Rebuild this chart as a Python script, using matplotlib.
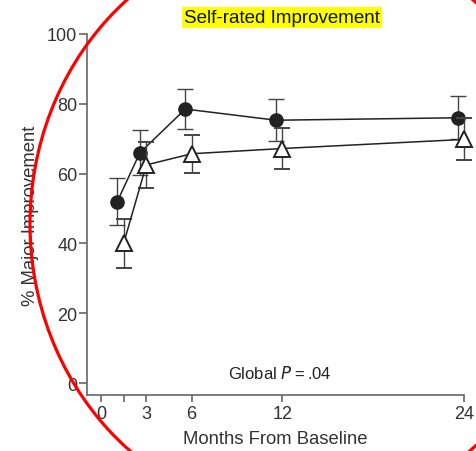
import numpy as np
import matplotlib.pyplot as plt
from matplotlib.patches import Ellipse

plt.rcParams['font.family'] = ['Liberation Sans', 'DejaVu Sans']

# months from baseline
months = [1.5, 3, 6, 12, 24]
tick_months = [0, 1.5, 3, 6, 12, 24]
tick_labels = ['0', '', '3', '6', '12', '24']

# % major improvement, two groups
filled_pct = [52, 66, 78.5, 75.3, 76]
filled_err = [6.7, 6.5, 5.6, 6.0, 6.1]
open_pct = [40, 62.5, 65.7, 67.2, 69.8]
open_err = [7.0, 6.6, 5.5, 6.0, 6.0]
offset = 0.42  # filled series shifted left so bars do not overlap

fig = plt.figure(figsize=(4.77, 4.52), dpi=100)
ax = fig.add_axes([0.1824, 0.1239, 0.7903, 0.7987])

l1 = ax.errorbar(np.array(months) - offset, filled_pct, yerr=filled_err,
                 fmt='-o', color='#222222', ecolor='#444444', elinewidth=1.0,
                 capsize=6, capthick=1.0, markersize=9.5, lw=1.1, zorder=3)
l2 = ax.errorbar(months, open_pct, yerr=open_err, fmt='-^', color='#222222',
                 ecolor='#444444', elinewidth=1.0, capsize=6, capthick=1.0,
                 markersize=11, markerfacecolor='white', markeredgewidth=1.4,
                 lw=1.1, zorder=4)
for cont in (l1, l2):
    for art in cont.get_children():
        art.set_clip_on(False)

ax.set_xlim(-0.92, 24)
ax.set_ylim(-3.4, 100)
ax.set_xticks(tick_months)
ax.set_xticklabels(tick_labels)
ax.set_yticks([0, 20, 40, 60, 80, 100])

for s in ['top', 'right']:
    ax.spines[s].set_visible(False)
for s in ['left', 'bottom']:
    ax.spines[s].set_color('#666666')
    ax.spines[s].set_linewidth(1.2)
ax.tick_params(axis='both', colors='#666666', labelcolor='#333333',
               labelsize=13, width=1.2)
ax.tick_params(axis='y', length=6, pad=1)
ax.tick_params(axis='x', length=5, pad=2)

ax.set_xlabel('Months From Baseline', fontsize=13.3, color='#333333', labelpad=6)
ax.set_ylabel('% Major Improvement', fontsize=13.3, color='#333333', labelpad=6)

ax.text(11.8, 0.5, 'Global $\\it{P}$\u2009=\u2009.04', ha='center', va='bottom',
        fontsize=12, color='#222222')

fig.text(0.591, 0.959, 'Self-rated Improvement', ha='center', va='center',
         fontsize=13.5, color='#111111',
         bbox=dict(facecolor='#ffff00', edgecolor='none', pad=1.2))

# red ring drawn over the whole figure
ring = Ellipse((300 / 477, 1 - 225 / 452), 540 / 477, 584 / 452,
               transform=fig.transFigure, fill=False, edgecolor='#ff0000',
               lw=2.3, clip_on=False, zorder=10)
fig.patches.append(ring)

fig.savefig('out.png', dpi=100)
